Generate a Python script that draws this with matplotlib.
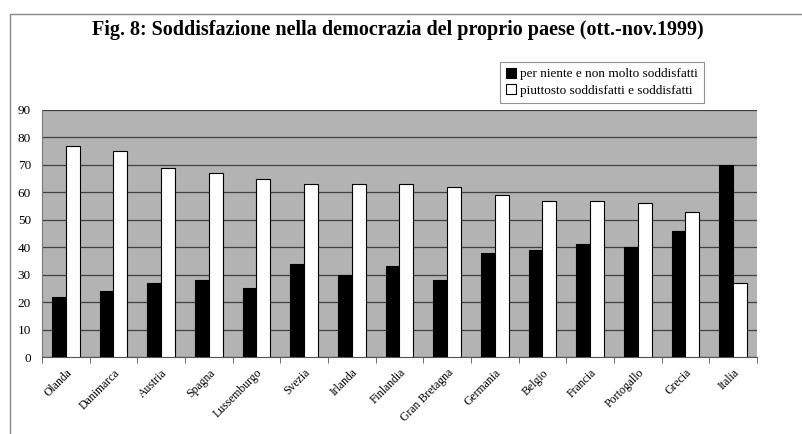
import numpy as np
import matplotlib.pyplot as plt
from matplotlib.patches import Rectangle

paesi = ["Olanda", "Danimarca", "Austria", "Spagna", "Lussemburgo", "Svezia",
         "Irlanda", "Finlandia", "Gran Bretagna", "Germania", "Belgio",
         "Francia", "Portogallo", "Grecia", "Italia"]
insoddisfatti = [22, 24, 27, 28, 25, 34, 30, 33, 28, 38, 39, 41, 40, 46, 70]
soddisfatti = [77, 75, 69, 67, 65, 63, 63, 63, 62, 59, 57, 57, 56, 53, 27]
lab1 = "per niente e non molto soddisfatti"
lab2 = "piuttosto soddisfatti e soddisfatti"

plt.rcParams['font.family'] = ['Liberation Serif', 'DejaVu Serif']

fig = plt.figure(figsize=(8.03, 4.34), dpi=100)
ax = fig.add_axes([42/803, 77/434, 715/803, 247/434])

x = np.arange(len(paesi))
w = 0.29
ax.bar(x - w/2, insoddisfatti, w, color='black', edgecolor='black', lw=0.8, label=lab1, zorder=3)
ax.bar(x + w/2, soddisfatti, w, color='white', edgecolor='black', lw=0.8, label=lab2, zorder=3)

ax.set_facecolor('#b3b3b3')
ax.set_xlim(-0.5, len(paesi) - 0.5)
ax.set_ylim(0, 90)
ax.set_yticks(range(0, 91, 10))
ax.yaxis.grid(True, color='#404040', lw=0.9, zorder=1)
ax.set_axisbelow(True)
for s in ['top', 'right']:
    ax.spines[s].set_visible(False)
ax.spines['left'].set_color('#777777')
ax.spines['bottom'].set_color('#555555')

ax.set_xticks(x)
ax.set_xticklabels(paesi, rotation=45, ha='right', rotation_mode='anchor', fontsize=8.5)
ax.tick_params(axis='x', length=0, pad=7)
ax.set_xticks(np.arange(len(paesi) + 1) - 0.5, minor=True)
ax.tick_params(axis='x', which='minor', length=4, color='#555555')
ax.tick_params(axis='y', length=0, labelsize=9.5, pad=8)

fig.text(0.495, 1 - 30/434, "Fig. 8: Soddisfazione nella democrazia del proprio paese (ott.-nov.1999)",
         ha='center', va='center', fontsize=14.5, fontweight='bold')

leg = fig.legend(loc='upper left', bbox_to_anchor=(493/803, 1 - 55/434), fontsize=9.5,
                 fancybox=False, edgecolor='#777777', handlelength=0.8, handleheight=0.8,
                 handletextpad=0.3, borderpad=0.45, labelspacing=0.3)
leg.get_frame().set_linewidth(0.8)

fig.patches.append(Rectangle((10/803, -0.1), 1.2, 1.1 - 14/434, transform=fig.transFigure,
                             fill=False, edgecolor='#888888', lw=1))

fig.savefig('out.png', dpi=100)
